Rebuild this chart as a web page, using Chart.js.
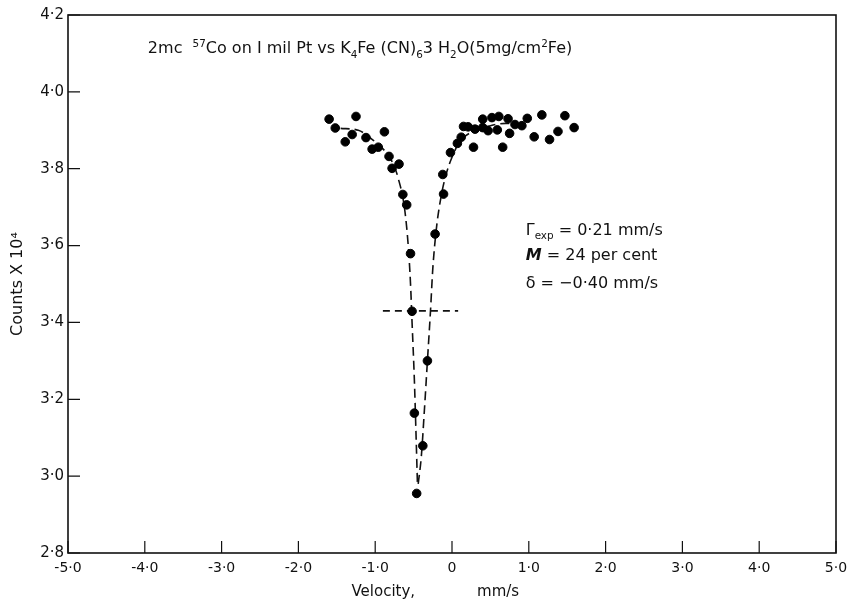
<!DOCTYPE html>
<html>
<head>
<meta charset="utf-8">
<script src="https://cdn.jsdelivr.net/npm/chart.js@4.4.0/dist/chart.umd.min.js"></script>
<style>body{margin:0;background:#fff}</style>
</head>
<body>
<canvas id="c" width="847" height="606"></canvas>
<script>
// measured points (velocity mm/s, counts x 10^4)
const velocity = [-1.60,-1.52,-1.25,-1.39,-1.30,-1.12,-0.88,-1.04,-0.96,-0.82,-0.78,-0.69,
  -0.64,-0.59,-0.54,-0.52,-0.49,-0.46,-0.38,-0.32,-0.22,-0.11,-0.12,
  -0.02,0.07,0.12,0.15,0.21,0.30,0.28,0.40,0.40,0.47,0.52,0.61,0.59,0.73,0.66,0.75,0.82,0.91,0.98,1.07,1.17,1.27,1.38,1.47,1.59]
const counts = [3.929,3.906,3.936,3.870,3.889,3.881,3.896,3.851,3.856,3.832,3.801,3.812,
  3.733,3.706,3.579,3.429,3.164,2.955,3.079,3.300,3.630,3.734,3.785,
  3.842,3.866,3.882,3.910,3.909,3.903,3.856,3.929,3.907,3.899,3.933,3.936,3.901,3.930,3.856,3.892,3.915,3.912,3.931,3.883,3.940,3.876,3.897,3.938,3.907]

// dashed fitted curve
const fitLeftX  = [-1.45,-1.22,-1.00,-0.87,-0.76,-0.70,-0.62,-0.57,-0.54,-0.52,-0.49,-0.47,-0.45]
const fitLeftY  = [3.905,3.900,3.870,3.845,3.810,3.775,3.700,3.600,3.500,3.400,3.250,3.120,2.980]
const fitRightX = [-0.44,-0.40,-0.36,-0.32,-0.28,-0.25,-0.20,-0.13,-0.07,0.00,0.10,0.25,0.50,0.70,0.90]
const fitRightY = [2.980,3.050,3.170,3.300,3.430,3.540,3.650,3.740,3.790,3.830,3.870,3.895,3.912,3.918,3.916]

// half-height marker
const halfX = [-0.90, 0.08]
const halfY = [3.43, 3.43]

const xTicks = ['-5·0','-4·0','-3·0','-2·0','-1·0','0','1·0','2·0','3·0','4·0','5·0']
const yTicks = ['2·8','3·0','3·2','3·4','3·6','3·8','4·0','4·2']

const pts = (xs, ys) => xs.map((x, i) => ({x: x, y: ys[i]}))
const FONT = "'DejaVu Sans', sans-serif"
Chart.defaults.font.family = FONT
Chart.defaults.color = '#111'

// draws parts of text with super/subscripts
const rich = (ctx, x, y, parts, size) => {
    parts.forEach(p => {
        let s = p[1] === 0 ? size : size*0.65
        let dy = p[1] === 1 ? -size*0.42 : (p[1] === -1 ? size*0.28 : 0)
        ctx.font = (p[2] || '') + ' ' + s + 'px ' + FONT
        ctx.fillText(p[0], x, y + dy)
        x += ctx.measureText(p[0]).width
    })
}

const frame = {
    id: 'frame',
    beforeDatasetsDraw(chart) {
        const {ctx, chartArea: a, scales: {x, y}} = chart
        ctx.save()
        ctx.strokeStyle = '#111'
        ctx.lineWidth = 1.6
        ctx.strokeRect(a.left, a.top, a.right - a.left, a.bottom - a.top)
        ctx.lineWidth = 1.2
        ctx.beginPath()
        y.ticks.forEach(t => {
            const p = y.getPixelForValue(t.value)
            ctx.moveTo(a.left, p); ctx.lineTo(a.left + 12, p)
        })
        x.ticks.forEach(t => {
            const p = x.getPixelForValue(t.value)
            ctx.moveTo(p, a.bottom); ctx.lineTo(p, a.bottom - 12)
        })
        ctx.stroke()
        ctx.restore()
    },
    afterDraw(chart) {
        const {ctx, scales: {x, y}} = chart
        ctx.save()
        ctx.fillStyle = '#111'
        ctx.textBaseline = 'alphabetic'
        rich(ctx, x.getPixelForValue(-3.96), y.getPixelForValue(4.10), [
            ['2mc  ',0],['57',1],['Co on I mil Pt vs K',0],['4',-1],['Fe (CN)',0],['6',-1],
            ['3 H',0],['2',-1],['O(5mg/cm',0],['2',1],['Fe)',0]], 16)
        const ax = x.getPixelForValue(0.96)
        rich(ctx, ax, y.getPixelForValue(3.628), [['Γ',0],['exp',-1],[' = 0·21 mm/s',0]], 16)
        rich(ctx, ax, y.getPixelForValue(3.563), [['M',0,'italic bold'],[' = 24 per cent',0]], 16)
        rich(ctx, ax, y.getPixelForValue(3.490), [['δ = −0·40 mm/s',0]], 16)
        ctx.restore()
    }
}

new Chart(document.getElementById('c'), {
    type: 'scatter',
    data: {
        datasets: [{
            data: pts(velocity, counts),
            backgroundColor: '#000',
            borderColor: '#000',
            pointRadius: 4.3,
            showLine: false
        }, {
            data: pts(fitLeftX, fitLeftY),
            showLine: true,
            pointRadius: 0,
            borderColor: '#111',
            borderWidth: 1.6,
            borderDash: [9, 5],
            cubicInterpolationMode: 'monotone'
        }, {
            data: pts(fitRightX, fitRightY),
            showLine: true,
            pointRadius: 0,
            borderColor: '#111',
            borderWidth: 1.6,
            borderDash: [9, 5],
            cubicInterpolationMode: 'monotone'
        }, {
            data: pts(halfX, halfY),
            showLine: true,
            pointRadius: 0,
            borderColor: '#111',
            borderWidth: 1.6,
            borderDash: [7, 5]
        }]
    },
    options: {
        responsive: false,
        animation: false,
        layout: {padding: {left: 0, right: 0, top: 15, bottom: 0}},
        plugins: {legend: {display: false}, tooltip: {enabled: false}},
        scales: {
            x: {
                type: 'linear', min: -5, max: 5,
                grid: {display: false, drawTicks: false},
                border: {display: false},
                ticks: {stepSize: 1, padding: 7, font: {size: 14},
                    callback: (v, i) => xTicks[i]},
                title: {display: true, text: 'Velocity,             mm/s       ',
                    font: {size: 15}, padding: {top: 0, bottom: 5}},
                afterFit: s => { s.height = 53; s.paddingRight = 11; s.paddingLeft = 0 }
            },
            y: {
                type: 'linear', min: 2.8, max: 4.2,
                grid: {display: false, drawTicks: false},
                border: {display: false},
                ticks: {stepSize: 0.2, padding: 4, font: {size: 15},
                    callback: (v, i) => yTicks[i]},
                title: {display: true, text: 'Counts X 10⁴',
                    font: {size: 16}, padding: {top: 8, bottom: 0}},
                afterFit: s => { s.width = 68 }
            }
        }
    },
    plugins: [frame]
})
</script>
</body>
</html>
